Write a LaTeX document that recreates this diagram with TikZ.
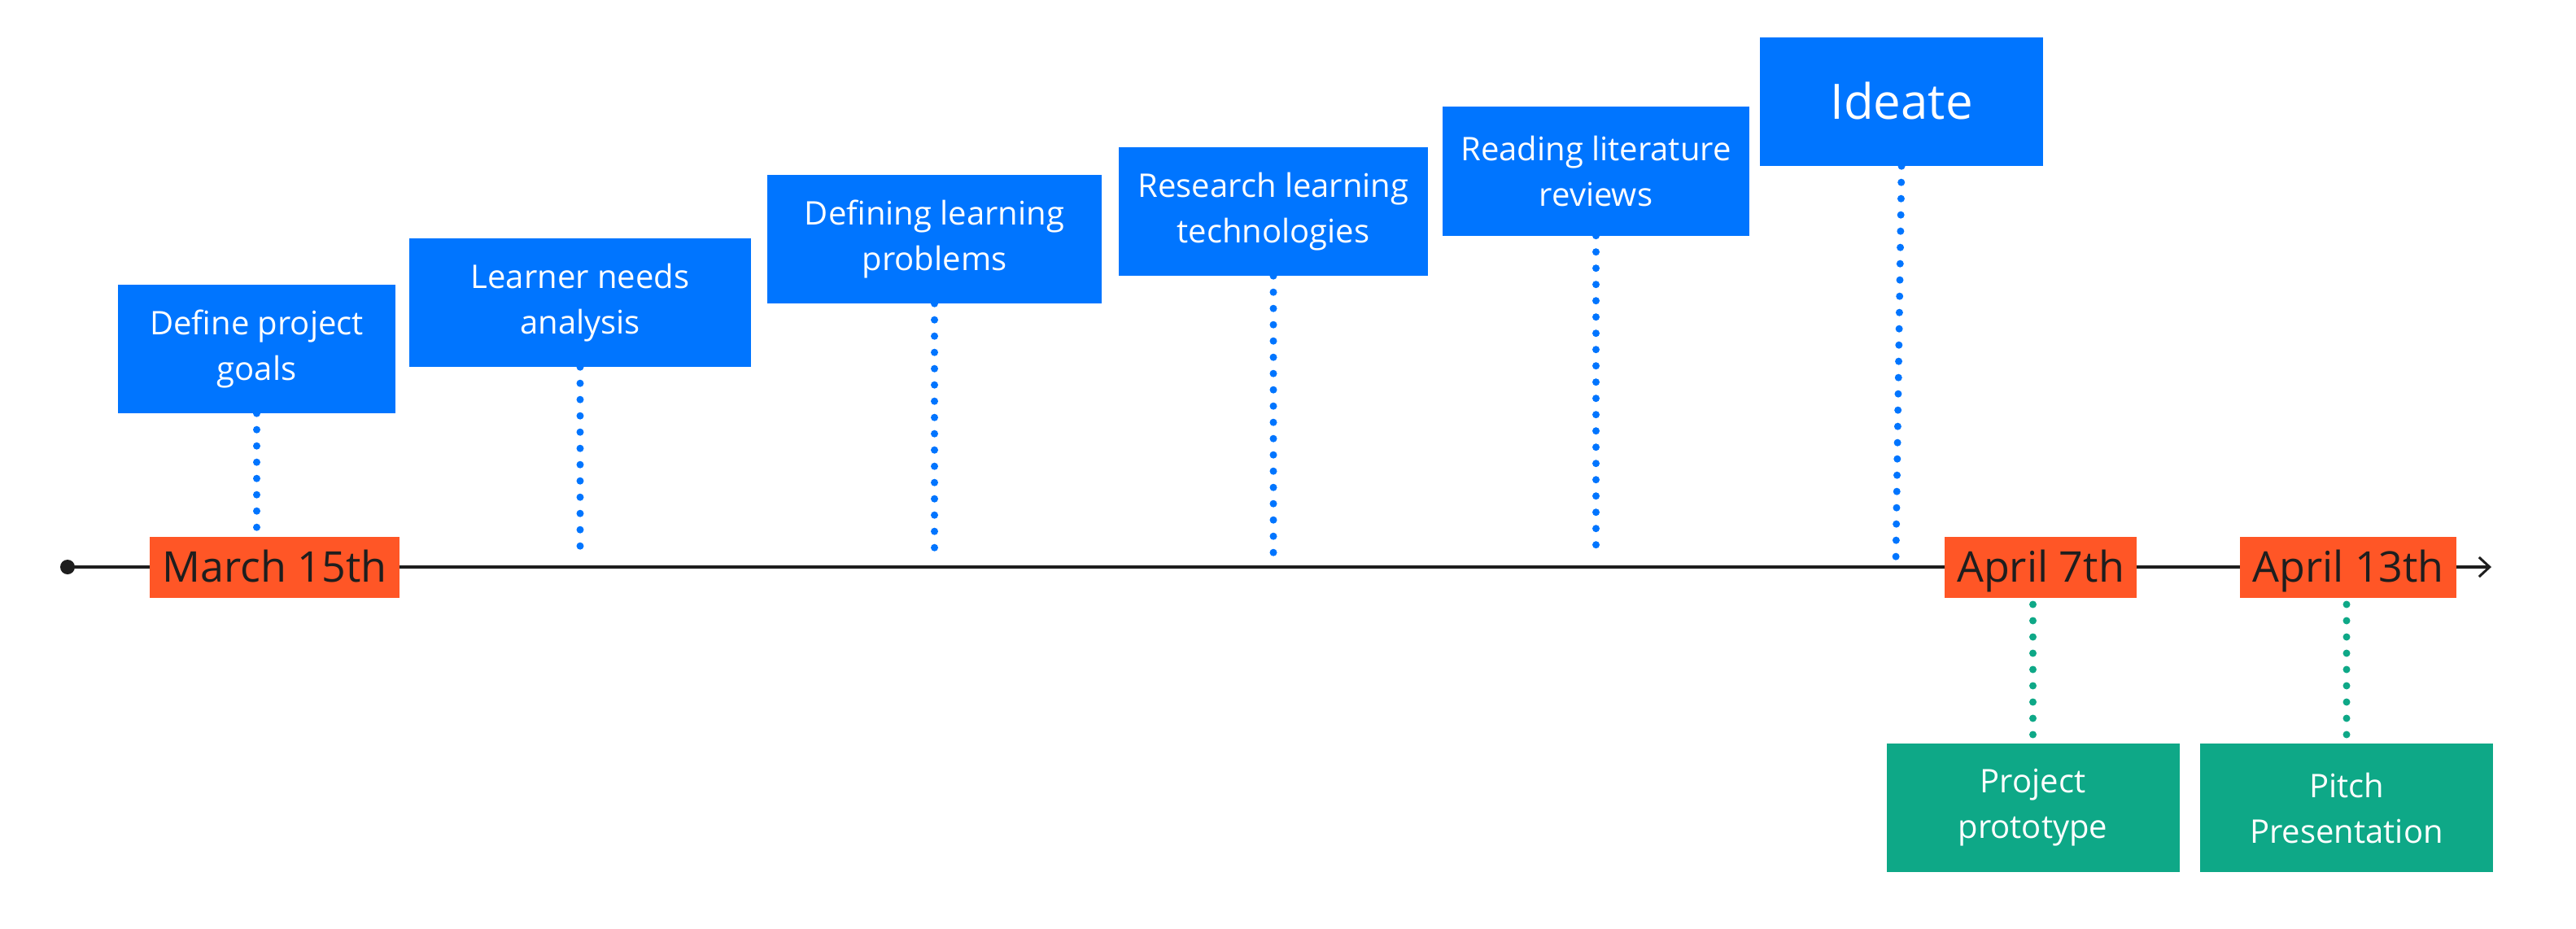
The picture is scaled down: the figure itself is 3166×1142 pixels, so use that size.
\documentclass[tikz,border=0pt]{standalone}
\usepackage{fontspec}
\setmainfont{Open Sans}
\usetikzlibrary{arrows.meta,backgrounds}
\definecolor{tlblue}{HTML}{0075FF}
\definecolor{tlorange}{HTML}{FF5626}
\definecolor{tlgreen}{HTML}{0EA887}
\definecolor{tlink}{HTML}{1E1E1E}
\begin{document}
\begin{tikzpicture}[x=1pt,y=-1pt,
 task/.style={fill=tlblue, text=white, inner sep=0pt, align=center, minimum height=158pt, font=\fontsize{40}{56}\selectfont},
 datebox/.style={fill=tlorange, text=tlink, inner sep=0pt, minimum height=75pt, text height=37pt, text depth=0pt, font=\fontsize{52}{60}\selectfont},
 outcome/.style={fill=tlgreen, text=white, inner sep=0pt, align=center, minimum width=360pt, minimum height=158pt, font=\fontsize{40}{56}\selectfont},
 bluedots/.style={draw=tlblue, line width=9pt, line cap=round, dash pattern=on 0pt off 20pt},
 greendots/.style={bluedots, draw=tlgreen},
 timeline/.style={draw=tlink, line width=4pt}
]
\useasboundingbox (0,0) rectangle (3166,1142);

% task boxes
\node[task, minimum width=341pt] (b1) at (315.5,429) {Define project\\goals};
\node[task, minimum width=420pt] (b2) at (713,372) {Learner needs\\analysis};
\node[task, minimum width=411pt] (b3) at (1148.5,294) {Defining learning\\problems};
\node[task, minimum width=380pt] (b4) at (1565,260) {Research learning\\technologies};
\node[task, minimum width=377pt] (b5) at (1961.5,210.5) {Reading literature\\reviews};
\node[task, minimum width=348pt, font=\fontsize{60}{70}\selectfont, text height=43pt, text depth=0pt] (b6) at (2337,125) {Ideate};

% date boxes
\node[datebox, minimum width=307pt] (d1) at (337.5,697) {March 15th};
\node[datebox, minimum width=236pt] (d2) at (2508,697) {April 7th};
\node[datebox, minimum width=266pt] (d3) at (2886,697) {April 13th};

% outcome boxes
\node[outcome] (o1) at (2498.5,993) {Project\\prototype};
\node[outcome] (o2) at (2884,993) {Pitch\\Presentation};

% timeline
\node[circle, fill=tlink, inner sep=0pt, minimum size=18pt] (start) at (83,697) {};
\coordinate (tend) at (3062,697);

% dot ends
\coordinate (e1) at (315.5,651);
\coordinate (e2) at (713,674);
\coordinate (e3) at (1148.5,675);
\coordinate (e4) at (1565,680);
\coordinate (e5) at (1961.5,670);
\coordinate (e6) at (2330,690);
\coordinate (g1) at (2498.5,743);
\coordinate (g2) at (2884,743);

\begin{scope}[on background layer]
\fill[white] (0,0) rectangle (3166,1142);
\draw[timeline] (start.center) -- (d1.west);
\draw[timeline] (d1.east) -- (d2.west);
\draw[timeline] (d2.east) -- (d3.west);
\draw[timeline, -{Straight Barb[length=13pt,width=24pt,line width=3pt]}] (d3.east) -- (tend);
\draw[bluedots] (b1.south) -- (e1);
\draw[bluedots] (b2.south) -- (e2);
\draw[bluedots] (b3.south) -- (e3);
\draw[bluedots] (b4.south) -- (e4);
\draw[bluedots] (b5.south) -- (e5);
\draw[bluedots] (b6.south) -- (e6);
\draw[greendots] (g1) -- (o1.north);
\draw[greendots] (g2) -- (o2.north);
\end{scope}
\end{tikzpicture}
\end{document}
